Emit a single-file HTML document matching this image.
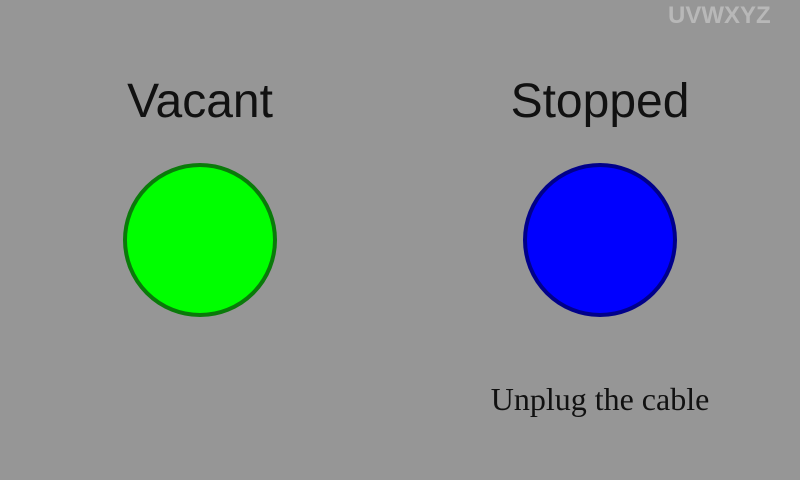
<!DOCTYPE html>
<html><head><meta charset="utf-8"><style>
body{margin:0;width:800px;height:480px;background:#969696;position:relative;overflow:hidden;font-family:"Liberation Sans",sans-serif}
.t{position:absolute;font-size:48px;color:#111;text-align:center;width:300px}
.c{position:absolute;width:154px;height:154px;border-radius:50%;box-sizing:border-box;border:4px solid}
</style></head><body>
<div style="position:absolute;left:668px;top:2px;font-size:24px;color:#b8b8b8;font-weight:bold">UVWXYZ</div>
<div class="t" style="left:50px;top:74px">Vacant</div>
<div class="t" style="left:450px;top:74px">Stopped</div>
<div class="c" style="left:123px;top:163px;background:#00ff00;border-color:#0a7a0a"></div>
<div class="c" style="left:523px;top:163px;background:#0000ff;border-color:#00008a"></div>
<div style="position:absolute;left:450px;width:300px;text-align:center;top:381px;font-family:'Liberation Serif',serif;font-size:32px;color:#111">Unplug the cable</div>
</body></html>
